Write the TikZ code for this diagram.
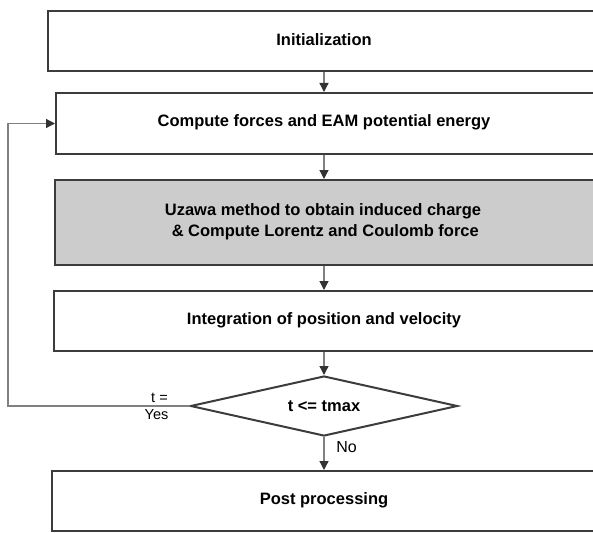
\documentclass[tikz,border=0pt]{standalone}
\usepackage{fontspec}
\setmainfont{Liberation Sans}
\usetikzlibrary{arrows.meta,shapes.geometric}
\definecolor{boxline}{HTML}{3C3C3C}
\definecolor{arrline}{HTML}{808080}
\definecolor{headcol}{HTML}{333333}
\definecolor{shade}{HTML}{CCCCCC}
\tikzset{
  procbox/.style={draw=boxline, line width=2pt, rectangle, inner sep=0pt, anchor=north west},
  boxtext/.style={inner sep=0pt, align=center, font=\fontsize{16.5}{21}\selectfont\bfseries},
  decbox/.style={draw=boxline, line width=2pt, diamond, inner sep=0pt, aspect=4.45,
    minimum width=267pt, minimum height=60pt, font=\fontsize{16.5}{21}\selectfont\bfseries},
  flow/.style={draw=arrline, line width=1.3pt, -{Triangle[width=9pt,length=9pt,fill=headcol,color=headcol]}},
  lbl/.style={inner sep=0pt, font=\fontsize{14.5}{16}\selectfont},
  nolbl/.style={inner sep=0pt, font=\fontsize{16}{18}\selectfont}
}
\begin{document}
\begin{tikzpicture}[x=1pt,y=-1pt]
\useasboundingbox (0,0) rectangle (593,532);
\clip (0,0) rectangle (593,532);
% boxes (they run past the right edge of the picture)
\node[procbox, minimum width=563pt, minimum height=60pt] (init) at (47,10) {};
\node[procbox, minimum width=555pt, minimum height=61pt] (comp) at (55,92) {};
\node[procbox, fill=shade, minimum width=556pt, minimum height=85pt] (uza) at (54,179) {};
\node[procbox, minimum width=557pt, minimum height=60pt] (integ) at (53,290) {};
\node[procbox, minimum width=559pt, minimum height=60pt] (post) at (51,470) {};
% texts
\node[boxtext] (tinit) at (324,40) {Initialization};
\node[boxtext] (tcomp) at (324,122.5) {Compute forces and EAM potential energy};
\node[boxtext] (tuza) at (323,221.5) {Uzawa method to obtain induced charge\\\ \& Compute Lorentz and Coulomb force};
\node[boxtext] (tinteg) at (324,320) {Integration of position and velocity};
\node[boxtext] (tpost) at (324,500) {Post processing};
\node[decbox] (dec) at (324,406) {t <= tmax};
\coordinate (fb) at (8,406);
% connectors
\draw[flow] (init.south -| dec) -- (comp.north -| dec);
\draw[flow] (comp.south -| dec) -- (uza.north -| dec);
\draw[flow] (uza.south -| dec) -- (integ.north -| dec);
\draw[flow] (integ.south -| dec) -- (dec.north);
\draw[flow] (dec.south) -- (post.north -| dec);
\draw[flow] (dec.west) -- (fb) |- (comp.west);
% labels
\node[lbl] (teq) at (159.5,398) {t =};
\node[lbl] (yes) at (156.5,415) {Yes};
\node[nolbl] (no) at (346.5,447) {No};
\end{tikzpicture}
\end{document}
